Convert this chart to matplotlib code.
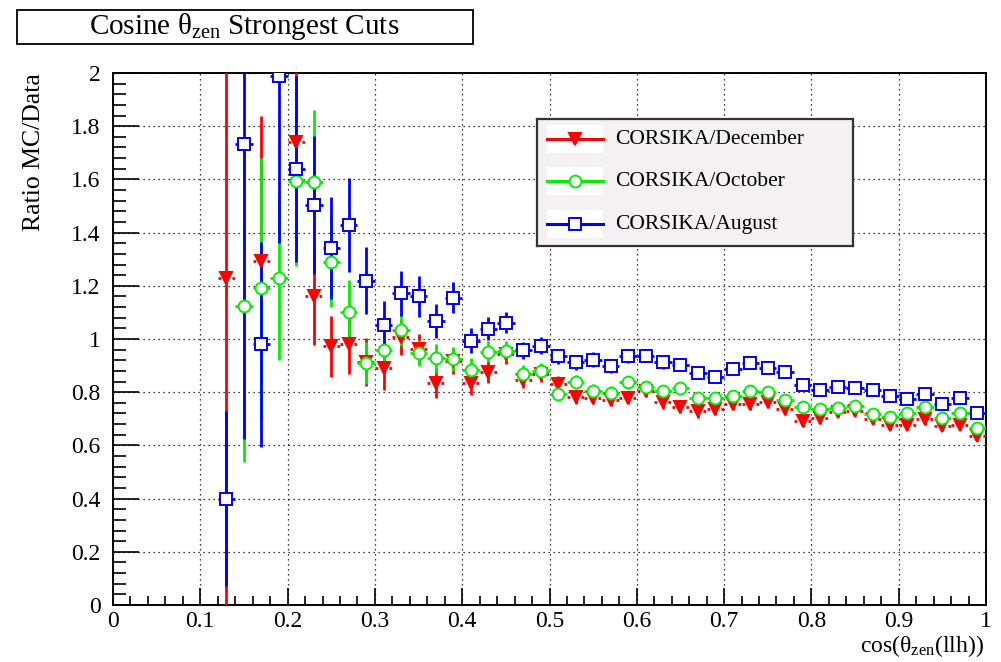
import numpy as np
import matplotlib
matplotlib.use("Agg")
import matplotlib.pyplot as plt
from matplotlib.patches import Rectangle
from matplotlib.lines import Line2D
from matplotlib.ticker import MultipleLocator

plt.rcParams['font.family'] = ['Liberation Serif', 'DejaVu Serif']
plt.rcParams['mathtext.fontset'] = 'custom'
plt.rcParams['mathtext.rm'] = 'Liberation Serif'
plt.rcParams['mathtext.it'] = 'Liberation Serif:italic'

# bin centres of the cos(zenith) histogram, 0.02 wide
bins = np.round(np.arange(0.13, 1.0, 0.02), 2)
half_width = 0.01

dec = [1.23, np.nan, 1.295, np.nan, 1.741, 1.161, 0.973, 0.98, 0.913, 0.89,
       1.006, 0.962, 0.835, 0.918, 0.833, 0.876, 0.942, 0.846, 0.868, 0.832,
       0.781, 0.78, 0.7725, 0.78, 0.806, 0.7625, 0.746, 0.7275, 0.7375, 0.756,
       0.756, 0.763, 0.736, 0.692, 0.702, 0.7256, 0.729, 0.70, 0.677, 0.677,
       0.698, 0.673, 0.677, 0.636]
dec_err = [1.30, 0, 0.545, 0, 0.35, 0.185, 0.115, 0.11, 0.09, 0.08,
           0.065, 0.055, 0.055, 0.05, 0.045, 0.04, 0.035, 0.032, 0.03, 0.028,
           0.027, 0.026, 0.025, 0.025, 0.024, 0.024, 0.023, 0.023, 0.022, 0.022,
           0.022, 0.021, 0.021, 0.021, 0.02, 0.02, 0.02, 0.02, 0.02, 0.02,
           0.02, 0.02, 0.02, 0.02]

octo = [np.nan, 1.124, 1.19, 1.23, 1.593, 1.59, 1.289, 1.103, 0.909, 0.957,
        1.033, 0.947, 0.928, 0.925, 0.884, 0.953, 0.956, 0.87, 0.878, 0.795,
        0.8375, 0.806, 0.7975, 0.8375, 0.819, 0.804, 0.816, 0.7775, 0.7775, 0.7875,
        0.806, 0.802, 0.771, 0.7456, 0.7356, 0.742, 0.748, 0.717, 0.707, 0.7206,
        0.7456, 0.702, 0.723, 0.664]
octo_err = [0, 0.587, 0.49, 0.31, 0.32, 0.27, 0.17, 0.12, 0.08, 0.08,
            0.06, 0.05, 0.055, 0.045, 0.043, 0.038, 0.035, 0.032, 0.03, 0.028,
            0.027, 0.026, 0.025, 0.025, 0.024, 0.024, 0.023, 0.023, 0.022, 0.022,
            0.022, 0.021, 0.021, 0.021, 0.02, 0.02, 0.02, 0.02, 0.02, 0.02,
            0.02, 0.02, 0.02, 0.02]

aug = [0.40, 1.734, 0.98, 1.99, 1.64, 1.505, 1.342, 1.43, 1.219, 1.052,
       1.172, 1.16, 1.067, 1.156, 0.994, 1.039, 1.061, 0.957, 0.975, 0.935,
       0.9125, 0.9225, 0.8975, 0.9375, 0.9375, 0.9125, 0.9025, 0.8725, 0.859, 0.8875,
       0.909, 0.89, 0.8756, 0.827, 0.807, 0.821, 0.814, 0.807, 0.7856, 0.7756,
       0.792, 0.757, 0.777, 0.723]
aug_err = [0.33, 1.11, 0.385, 0.63, 0.35, 0.26, 0.19, 0.177, 0.125, 0.09,
           0.085, 0.076, 0.064, 0.06, 0.048, 0.043, 0.04, 0.033, 0.032, 0.029,
           0.028, 0.027, 0.026, 0.026, 0.025, 0.025, 0.024, 0.024, 0.023, 0.023,
           0.023, 0.022, 0.022, 0.022, 0.021, 0.021, 0.021, 0.021, 0.02, 0.02,
           0.02, 0.02, 0.02, 0.02]

labels = ["CORSIKA/December", "CORSIKA/October", "CORSIKA/August"]
colors = ["#ff0000", "#00f000", "#0000ff"]
markers = ["v", "o", "s"]

fig = plt.figure(figsize=(10.01, 6.62), dpi=100)
ax = fig.add_axes([113 / 1001, 57 / 662, 873 / 1001, 532 / 662])

series = [(dec, dec_err), (octo, octo_err), (aug, aug_err)]
for (vals, errs), c, m in zip(series, colors, markers):
    vals = np.array(vals)
    ok = ~np.isnan(vals)
    face = c if m == "v" else "white"
    eb = ax.errorbar(bins[ok], vals[ok], yerr=np.array(errs)[ok], xerr=half_width,
                     fmt=m, color=c, ecolor=c, elinewidth=2.0, markersize=8.5,
                     markerfacecolor=face, markeredgecolor=c, markeredgewidth=1.4,
                     capsize=0, zorder=3)
    if m == "v":
        eb[2][0].set_linestyle((0, (1, 1.5)))

ax.set_xlim(0, 1)
ax.set_ylim(0, 2)
ax.xaxis.set_major_locator(MultipleLocator(0.1))
ax.xaxis.set_minor_locator(MultipleLocator(0.02))
ax.yaxis.set_major_locator(MultipleLocator(0.2))
ax.yaxis.set_minor_locator(MultipleLocator(0.04))
ax.xaxis.set_major_formatter(plt.FuncFormatter(lambda v, p: "%g" % round(v, 2)))
ax.yaxis.set_major_formatter(plt.FuncFormatter(lambda v, p: "%g" % round(v, 2)))
ax.tick_params(axis="x", which="major", direction="in", length=12, width=1.2,
               labelsize=17, pad=4)
ax.tick_params(axis="x", which="minor", direction="in", length=6.5, width=1.2)
ax.tick_params(axis="y", which="major", direction="in", length=19, width=1.2,
               labelsize=17, pad=9)
ax.tick_params(axis="y", which="minor", direction="in", length=9.5, width=1.2)
ax.grid(True, which="major", color="black", linestyle=(0, (1, 3)), linewidth=0.9)
ax.set_axisbelow(True)
for s in ax.spines.values():
    s.set_linewidth(1.4)

fig.text(34 / 1001, 1 - 73 / 662, "Ratio MC/Data", rotation=90, ha="center",
         va="top", fontsize=18.5)
fig.text(984 / 1001, 1 - 652 / 662, r"cos($\mathrm{θ}_{\mathrm{zen}}$(llh))",
         ha="right", va="baseline", fontsize=17)

# title box
fig.patches.append(Rectangle((17 / 1001, 1 - 44 / 662), 456 / 1001, 34 / 662,
                             transform=fig.transFigure, facecolor="white",
                             edgecolor="black", linewidth=1.3))
fig.text(244 / 1001, 1 - 27 / 662, r"Cosine $\mathrm{θ}_{\mathrm{zen}}$ Strongest Cuts",
         ha="center", va="center", fontsize=21)

# legend box
lg = fig.add_axes([537 / 1001, 1 - 246 / 662, 316 / 1001, 127 / 662])
lg.set_xlim(537, 853)
lg.set_ylim(246, 119)
lg.set_facecolor("#f4f0f3")
for s in lg.spines.values():
    s.set_linewidth(1.6)
    s.set_color("#333333")
lg.set_xticks([])
lg.set_yticks([])
for row_y, lab, c, m in zip([139, 181, 224], labels, colors, markers):
    lg.add_patch(Rectangle((547, row_y - 14), 56, 28, facecolor="white",
                           edgecolor="none"))
    lg.add_line(Line2D([547, 603], [row_y, row_y], color=c, linewidth=2.2))
    face = c if m == "v" else "white"
    lg.plot([575], [row_y], marker=m, markersize=8.5, markerfacecolor=face,
            markeredgecolor=c, markeredgewidth=1.4)
    lg.text(615, row_y, lab, ha="left", va="center", fontsize=15.5)

fig.savefig("out.png", dpi=100)
